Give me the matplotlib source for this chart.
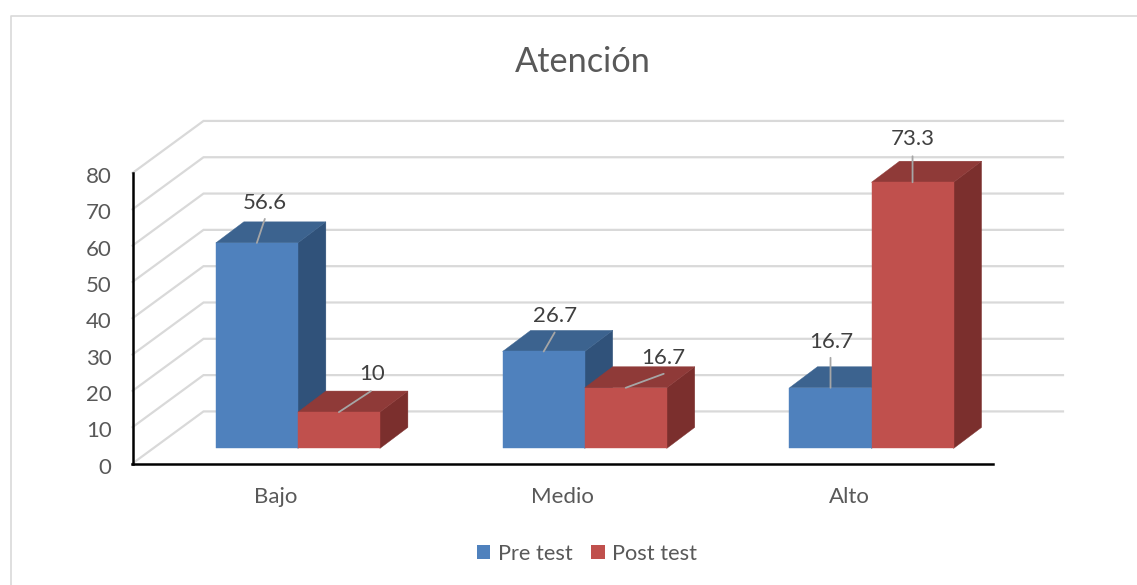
import numpy as np
import matplotlib
matplotlib.use("Agg")
import matplotlib.pyplot as plt
from matplotlib.lines import Line2D
from matplotlib.patches import Patch, Polygon
from matplotlib.transforms import ScaledTranslation

categories = ['Bajo', 'Medio', 'Alto']
pre_test = [56.6, 26.7, 16.7]
post_test = [10, 16.7, 73.3]
y_ticks = [0, 10, 20, 30, 40, 50, 60, 70, 80]

W, H = 1137, 585
BAR_W = 0.286        # bar width in category units
FLOOR = 4.15         # front of the bars sits above the axis line
DEPTH_X, DEPTH_Y = 0.0976, 5.8    # bar depth
WALL_X, WALL_Y = 0.2476, 14.34    # back wall offset
GROUP_SHIFT = 0.0765
GRID_END = 2.744

plt.rcParams['font.family'] = ['Lato', 'DejaVu Sans']

fig = plt.figure(figsize=(W / 100, H / 100), dpi=100)
ax = fig.add_axes([132.5 / W, 1 - 463.5 / H, 860.5 / W, 290.5 / H])
ax.patch.set_visible(False)
ax.set_xlim(-0.5, 2.5)
ax.set_ylim(0, 80)


def draw_bar(left, value, front, top, side):
    right = left + BAR_W
    base = FLOOR
    height = base + value
    ax.add_patch(Polygon([(right, base), (right + DEPTH_X, base + DEPTH_Y),
                          (right + DEPTH_X, height + DEPTH_Y), (right, height)],
                         facecolor=side, edgecolor=side, lw=0.3, clip_on=False, zorder=3))
    ax.add_patch(Polygon([(left, height), (left + DEPTH_X, height + DEPTH_Y),
                          (right + DEPTH_X, height + DEPTH_Y), (right, height)],
                         facecolor=top, edgecolor=top, lw=0.3, clip_on=False, zorder=3))
    ax.add_patch(Polygon([(left, base), (right, base), (right, height), (left, height)],
                         facecolor=front, edgecolor=front, lw=0.3, clip_on=False, zorder=3))


# back wall gridlines
for v in y_ticks:
    ax.plot([-0.5, -0.5 + WALL_X, GRID_END], [v, v + WALL_Y, v + WALL_Y],
            color='#D9D9D9', lw=1.6, clip_on=False, zorder=1, solid_joinstyle='miter')

# label offsets in pixels, (leader end) and (text centre), from the top middle of the front face
pre_offsets = [((8, 24), (8, 40)), ((11, 19), (11, 35)), ((0, 30), (1, 46))]
post_offsets = [((32, 21), (33, 38)), ((38, 14), (38, 30)), ((0, 26), (0, 43))]

for i in range(len(categories)):
    left = i + GROUP_SHIFT - BAR_W
    draw_bar(left, pre_test[i], '#4F81BD', '#3C638F', '#30527A')
    draw_bar(left + BAR_W, post_test[i], '#C0504D', '#8F3A38', '#7B2F2D')

    for x, val, offs in [(left + BAR_W / 2, pre_test[i], pre_offsets[i]),
                         (left + BAR_W * 1.5, post_test[i], post_offsets[i])]:
        xy = (x, FLOOR + val)
        ax.annotate('', xy=xy, xytext=offs[0], textcoords='offset pixels',
                    arrowprops=dict(arrowstyle='-', color='#A6A6A6', lw=1.3,
                                    shrinkA=0, shrinkB=0), zorder=5, annotation_clip=False)
        ax.annotate(f'{val:g}', xy=xy, xytext=offs[1], textcoords='offset pixels',
                    ha='center', va='center', fontsize=16, color='#404040',
                    zorder=6, annotation_clip=False)

ax.set_xticks(np.arange(len(categories)))
ax.set_xticklabels(categories)
ax.set_yticks(y_ticks)
ax.tick_params(axis='x', length=0, pad=17, labelsize=16, labelcolor='#595959')
ax.tick_params(axis='y', length=0, pad=15, labelsize=16, labelcolor='#595959')
nudge = ScaledTranslation(0, -2.0 / 100, fig.dpi_scale_trans)
for lab in ax.get_yticklabels():
    lab.set_transform(lab.get_transform() + nudge)
for name in ['top', 'right']:
    ax.spines[name].set_visible(False)
for name in ['left', 'bottom']:
    ax.spines[name].set_linewidth(1.8)
    ax.spines[name].set_color('black')
    ax.spines[name].set_zorder(4)

fig.text(583 / W, 1 - 61.5 / H, 'Atención', ha='center', va='center', fontsize=24.7, color='#595959')

# chart frame, only the top and left edges are in the crop
fig.add_artist(Line2D([11 / W, 11 / W, 1], [0, 1 - 15.5 / H, 1 - 15.5 / H],
                      color='#D9D9D9', lw=1.2))

handles = [Patch(facecolor='#4F81BD', label='Pre test'),
           Patch(facecolor='#C0504D', label='Post test')]
fig.legend(handles=handles, loc='center', bbox_to_anchor=(587 / W, 1 - 554 / H), ncol=2,
           frameon=False, fontsize=15.7, labelcolor='#595959', handlelength=0.62,
           handleheight=0.62, handletextpad=0.35, columnspacing=0.85)

fig.savefig('out.png', dpi=100)
